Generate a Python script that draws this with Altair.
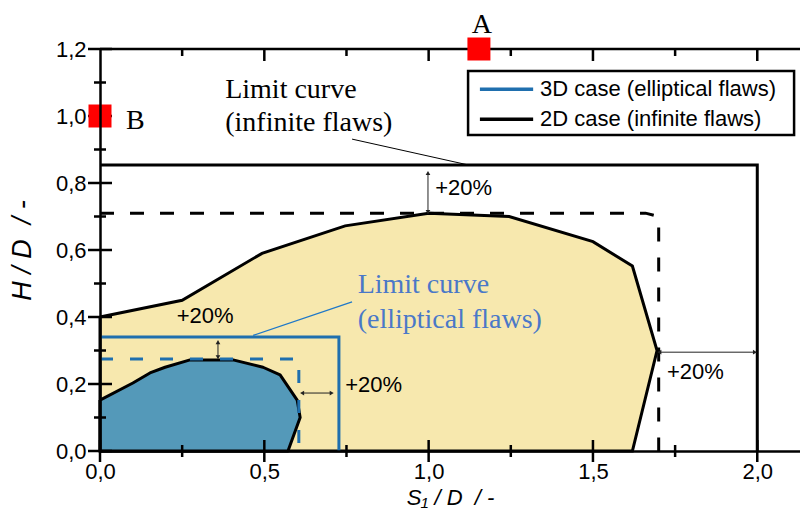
import altair as alt
import pandas as pd

# ---------------- data ----------------
BLUE = "#1f6fae"
BLUE_FILL = "#5499b9"
YELLOW = "#f7e8ae"
BLUE_TEXT = "#4a78c8"

S2D = "2D case (infinite flaws)"
S3D = "3D case (elliptical flaws)"
SERIES = [S3D, S2D]
SERIES_COLORS = [BLUE, "black"]

# 2D acceptance region (yellow)
yel_x = [0.0, 0.25, 0.493, 0.746, 1.0, 1.245, 1.50, 1.62, 1.695, 1.62, 0.0, 0.0]
yel_y = [0.40, 0.45, 0.59, 0.672, 0.71, 0.70, 0.625, 0.552, 0.30, 0.0, 0.0, 0.40]
# 3D acceptance region (blue)
blu_x = [0.0, 0.10, 0.152, 0.198, 0.274, 0.405, 0.496, 0.548, 0.60, 0.609, 0.572, 0.0, 0.0]
blu_y = [0.152, 0.203, 0.233, 0.25, 0.272, 0.272, 0.25, 0.227, 0.152, 0.10, 0.0, 0.0, 0.152]

# limit curves (solid)
lim2d_x = [0.0, 2.0, 2.0]
lim2d_y = [0.854, 0.854, 0.0]
lim3d_x = [0.0, 0.727, 0.727]
lim3d_y = [0.34, 0.34, 0.0]
# envelopes (dashed)
env2d_x = [0.0, 1.66, 1.70, 1.70]
env2d_y = [0.71, 0.71, 0.70, 0.0]
env3d_x = [0.0, 0.605, 0.605]
env3d_y = [0.275, 0.275, 0.0]

# points A, B
pt_x = [1.153, 0.0]
pt_y = [1.2, 1.0]
pt_lab = ["A", "B"]
lab_x = [1.162, 0.079]
lab_y = [1.248, 0.961]
lab_align = ["center", "left"]

# "+20%" annotations
pc_x = [1.02, 0.32, 0.746, 1.725]
pc_y = [0.784, 0.403, 0.197, 0.236]
pc_align = ["left", "center", "left", "left"]

# vertical arrows (x, y_from, y_to)
va_x = [0.998, 0.359]
va_y1 = [0.713, 0.28]
va_y2 = [0.83, 0.325]
# horizontal arrows (y, x_from, x_to)
ha_y = [0.173, 0.295]
ha_x1 = [0.615, 1.702]
ha_x2 = [0.705, 1.993]

# legend rows (y in data units)
leg_y = [1.08, 0.99]

# ticks / labels
X_LABELS = [0.0, 0.5, 1.0, 1.5, 2.0]
X_MINOR = [0.25, 0.75, 1.25, 1.75]
X_TOP_MAJOR = [0.5, 1.0, 1.5, 2.0]
Y_LABELS = [0.0, 0.2, 0.4, 0.6, 0.8, 1.0, 1.2]
Y_MINOR = [0.1, 0.3, 0.5, 0.7, 0.9, 1.1]

# ---------------- scales / axes ----------------
FONT = "Liberation Sans"
SERIF = "Liberation Serif"
XS = alt.Scale(domain=[0, 2.13], nice=False, zero=False)
YS = alt.Scale(domain=[0, 1.2], nice=False, zero=False)
CS = alt.Scale(domain=SERIES, range=SERIES_COLORS)
LBL = "replace(format(datum.value, '.1f'), '.', ',')"
XAX = alt.Axis(title="S\u2081 / D\u00a0\u00a0/ -", values=X_LABELS, labelExpr=LBL, ticks=False, tickSize=0,
               domainColor="black", domainWidth=2.5, labelFont=FONT, labelFontSize=22,
               labelColor="black", labelPadding=10, labelFlush=False, titleFont=FONT, titleFontSize=22,
               titleFontStyle="italic", titleFontWeight="normal", titleColor="black",
               titlePadding=5, grid=False, zindex=1)
YAX = alt.Axis(title="H / D\u00a0\u00a0/ -", values=Y_LABELS, labelExpr=LBL, ticks=False, tickSize=0,
               domainColor="black", domainWidth=2.5, labelFont=FONT, labelFontSize=22,
               labelColor="black", labelPadding=14, labelFlush=False, titleFont=FONT, titleFontSize=27,
               titleFontStyle="italic", titleFontWeight="normal", titleColor="black",
               titlePadding=19, grid=False, zindex=1)


def X(**kw):
    return alt.X(type="quantitative", scale=XS, axis=XAX, **kw)


def Y(**kw):
    return alt.Y(type="quantitative", scale=YS, axis=YAX, **kw)


def poly(xs, ys):
    return pd.DataFrame({"x": xs, "y": ys, "i": list(range(len(xs)))})


layers = []

# filled regions
layers.append(alt.Chart(poly(yel_x, yel_y)).mark_line(fill=YELLOW, stroke="black", strokeWidth=3,
                                                       strokeJoin="miter").encode(
    x=X(field="x"), y=Y(field="y"), order="i:Q"))
layers.append(alt.Chart(poly(blu_x, blu_y)).mark_line(fill=BLUE_FILL, stroke="black", strokeWidth=3,
                                                       strokeJoin="round").encode(
    x=X(field="x"), y=Y(field="y"), order="i:Q"))

# dashed envelopes
layers.append(alt.Chart(poly(env2d_x, env2d_y)).mark_line(color="black", strokeWidth=3,
                                                           strokeDash=[14, 16], strokeJoin="miter").encode(
    x=X(field="x"), y=Y(field="y"), order="i:Q"))
layers.append(alt.Chart(poly(env3d_x, env3d_y)).mark_line(color=BLUE, strokeWidth=3,
                                                           strokeDash=[13, 17]).encode(
    x=X(field="x"), y=Y(field="y"), order="i:Q"))

# solid limit curves
lim = pd.concat([
    poly(lim3d_x, lim3d_y).assign(series=S3D),
    poly(lim2d_x, lim2d_y).assign(series=S2D),
])
layers.append(alt.Chart(lim).mark_line(strokeWidth=3, strokeJoin="miter").encode(
    x=X(field="x"), y=Y(field="y"), order="i:Q",
    color=alt.Color("series:N", scale=CS, legend=None)))

# leader lines
layers.append(alt.Chart().mark_rule(color="black", strokeWidth=1).encode(
    x=X(datum=0.767), y=Y(datum=0.931), x2=alt.X2(datum=1.12), y2=alt.Y2(datum=0.854)))
layers.append(alt.Chart().mark_rule(color="#1f78c8", strokeWidth=1.3).encode(
    x=X(datum=0.466), y=Y(datum=0.345), x2=alt.X2(datum=0.767), y2=alt.Y2(datum=0.445)))

# arrows
va = pd.DataFrame({"x": va_x, "y": va_y1, "y2": va_y2})
ha = pd.DataFrame({"y": ha_y, "x": ha_x1, "x2": ha_x2})
layers.append(alt.Chart(va).mark_rule(color="#222", strokeWidth=1).encode(
    x=X(field="x"), y=Y(field="y"), y2="y2:Q"))
layers.append(alt.Chart(ha).mark_rule(color="#222", strokeWidth=1).encode(
    x=X(field="x"), x2="x2:Q", y=Y(field="y")))
heads = pd.DataFrame({
    "x": va_x + va_x + ha_x1 + ha_x2,
    "y": va_y1 + va_y2 + ha_y + ha_y,
    "shape": ["triangle-down"] * 2 + ["triangle-up"] * 2 + ["triangle-left"] * 2 + ["triangle-right"] * 2,
})
layers.append(alt.Chart(heads).mark_point(filled=True, color="#222", size=22, opacity=1).encode(
    x=X(field="x"), y=Y(field="y"), shape=alt.Shape("shape:N", scale=None)))

# "+20%" labels
pc = pd.DataFrame({"x": pc_x, "y": pc_y, "a": pc_align, "t": ["+20%"] * 4})
for a in ["left", "center"]:
    layers.append(alt.Chart(pc[pc.a == a]).mark_text(font=FONT, fontSize=22, color="black",
                                                      align=a, baseline="middle").encode(
        x=X(field="x"), y=Y(field="y"), text="t:N"))

# limit-curve captions
layers.append(alt.Chart().mark_text(text=["Limit curve", "(infinite flaws)"], font=SERIF, fontSize=28,
                                     color="black", align="left", baseline="alphabetic",
                                     lineHeight=33).encode(x=X(datum=0.381), y=Y(datum=1.054)))
layers.append(alt.Chart().mark_text(text=["Limit curve", "(elliptical flaws)"], font=SERIF, fontSize=28,
                                     color=BLUE_TEXT, align="left", baseline="alphabetic",
                                     lineHeight=35).encode(x=X(datum=0.784), y=Y(datum=0.472)))

# legend (drawn in the plot)
layers.append(alt.Chart().mark_rect(fill="white", stroke="black", strokeWidth=2.5).encode(
    x=X(datum=1.12), x2=alt.X2(datum=2.112), y=Y(datum=1.134), y2=alt.Y2(datum=0.943)))
leg = pd.DataFrame({"series": SERIES, "y": leg_y})
layers.append(alt.Chart(leg).mark_rule(strokeWidth=3.5).encode(
    x=X(datum=1.156), x2=alt.X2(datum=1.318), y=Y(field="y"),
    color=alt.Color("series:N", scale=CS, legend=None)))
layers.append(alt.Chart(leg).mark_text(font=FONT, fontSize=22, color="black", align="left",
                                       baseline="middle").encode(
    x=X(datum=1.339), y=Y(field="y"), text="series:N"))

# ticks crossing the axes
tk = dict(color="black", thickness=2.5, opacity=1)
layers.append(alt.Chart(pd.DataFrame({"x": X_LABELS})).mark_tick(orient="vertical", size=22, **tk).encode(
    x=X(field="x"), y=Y(datum=0)))
layers.append(alt.Chart(pd.DataFrame({"x": X_MINOR})).mark_tick(orient="vertical", size=12, **tk).encode(
    x=X(field="x"), y=Y(datum=0)))
layers.append(alt.Chart(pd.DataFrame({"x": X_TOP_MAJOR})).mark_tick(orient="vertical", size=12, yOffset=6, **tk).encode(
    x=X(field="x"), y=Y(datum=1.2)))
layers.append(alt.Chart(pd.DataFrame({"x": X_MINOR})).mark_tick(orient="vertical", size=7, yOffset=3.5, **tk).encode(
    x=X(field="x"), y=Y(datum=1.2)))
layers.append(alt.Chart(pd.DataFrame({"y": Y_LABELS})).mark_tick(orient="horizontal", size=24, **tk).encode(
    x=X(datum=0), y=Y(field="y")))
layers.append(alt.Chart(pd.DataFrame({"y": Y_MINOR})).mark_tick(orient="horizontal", size=12, **tk).encode(
    x=X(datum=0), y=Y(field="y")))
# top frame line
layers.append(alt.Chart().mark_rule(color="black", strokeWidth=2.5).encode(
    x=X(datum=0), x2=alt.X2(datum=2.13), y=Y(datum=1.2)))

# points A and B
pts = pd.DataFrame({"x": pt_x, "y": pt_y, "l": pt_lab})
layers.append(alt.Chart(pts).mark_square(size=529, color="#ff0000", opacity=1).encode(
    x=X(field="x"), y=Y(field="y")))
labs = pd.DataFrame({"x": lab_x, "y": lab_y, "l": pt_lab, "a": lab_align})
for a in ["center", "left"]:
    layers.append(alt.Chart(labs[labs.a == a]).mark_text(font=SERIF, fontSize=28, color="black",
                                                          align=a, baseline="alphabetic").encode(
        x=X(field="x"), y=Y(field="y"), text="l:N"))

chart = alt.layer(*layers).properties(
    width=700, height=402,
    autosize=alt.AutoSizeParams(type="none"),
    padding={"left": 92, "top": 41, "right": 0, "bottom": 66},
).configure_view(stroke="transparent")

chart.save("out.html", embed_options={"renderer": "svg", "actions": False})
